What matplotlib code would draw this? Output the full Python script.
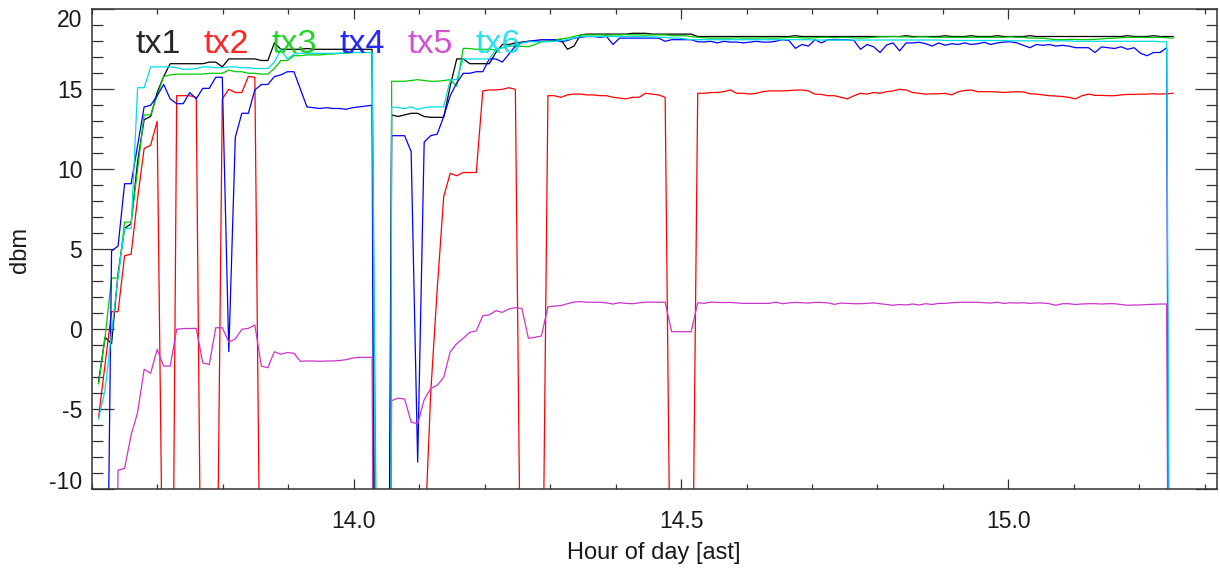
import numpy as np
import matplotlib
matplotlib.use('Agg')
import matplotlib.pyplot as plt
from matplotlib.ticker import MultipleLocator, FormatStrFormatter

plt.rcParams['font.family'] = ['Liberation Sans', 'DejaVu Sans']
plt.rcParams['axes.unicode_minus'] = False

# sample times (hour of day), one sample about every 36 s
T0 = 13.610
DT = 0.00995

tx1 = [-3.3, -0.5, -0.9, 3.5, 6.3, 6.6, 10.5, 13.1, 13.3, 14.8,
       15.8, 16.6, 16.6, 16.6, 16.6, 16.6, 16.6, 16.7, 16.7, 16.4,
       16.9, 16.9, 16.9, 16.9, 16.9, 16.8, 16.8, 17.9, 17.5, 17.5,
       17.5, 17.5, 17.55, 17.5, 17.5, 17.5, 17.5, 17.5, 17.5, 17.5,
       17.5, 17.5, 17.5, -60, -60, 13.4, 13.3, 13.4, 13.5, 13.5,
       13.3, 13.25, 13.25, 13.25, 15.2, 16.9, 16.9, 16.6, 16.6, 16.6,
       16.6, 17.3, 17.8, 17.8, 17.9, 17.95, 18.0, 18.0, 18.0, 18.0,
       18.05, 18.1, 17.5, 17.7, 18.4, 18.45, 18.45, 18.45, 18.45, 18.45,
       18.45, 18.45, 18.5, 18.5, 18.5, 18.45, 18.45, 18.45, 18.45, 18.45,
       18.45, 18.45, 18.3, 18.3, 18.3, 18.3, 18.3, 18.3, 18.3, 18.3,
       18.3, 18.3, 18.3, 18.3, 18.3, 18.3, 18.3, 18.35, 18.3, 18.3,
       18.3, 18.3, 18.3, 18.3, 18.3, 18.3, 18.3, 18.3, 18.3, 18.3,
       18.3, 18.3, 18.3, 18.3, 18.35, 18.3, 18.3, 18.3, 18.3, 18.3,
       18.35, 18.3, 18.3, 18.3, 18.35, 18.3, 18.3, 18.3, 18.35, 18.3,
       18.3, 18.3, 18.3, 18.35, 18.3, 18.3, 18.3, 18.3, 18.3, 18.3,
       18.3, 18.3, 18.3, 18.3, 18.3, 18.3, 18.3, 18.3, 18.35, 18.3,
       18.3, 18.3, 18.35, 18.3, 18.3, 18.3]

tx2 = [-5.5, -2.2, 1.1, 1.1, 4.6, 4.7, 8.2, 11.3, 11.5, 13.0,
       -22, -40, 14.6, 14.6, 14.6, 14.5, -30, -30, -25, 14.4,
       15.0, 14.8, 14.8, 15.8, 15.75, -25, -25, -25, -25, -25,
       -25, -25, -25, -25, -25, -25, -25, -25, -25, -25,
       -25, -25, -25, -25, -25, -25, -25, -25, -25, -25,
       -14, -4, 2.5, 8.3, 9.75, 9.6, 9.8, 9.8, 9.8, 14.9,
       14.96, 14.96, 15.0, 15.1, 15.0, -25, -25, -25, -25, 14.6,
       14.6, 14.5, 14.65, 14.7, 14.7, 14.65, 14.65, 14.6, 14.6, 14.5,
       14.45, 14.4, 14.5, 14.5, 14.75, 14.7, 14.65, 14.5, -25, -25,
       -25, -25, 14.75, 14.75, 14.8, 14.8, 14.85, 14.96, 14.75, 14.75,
       14.7, 14.75, 14.85, 14.9, 14.9, 14.9, 14.92, 14.95, 14.96, 14.9,
       14.7, 14.68, 14.6, 14.6, 14.5, 14.4, 14.6, 14.75, 14.7, 14.8,
       14.75, 14.85, 14.9, 15.0, 14.96, 14.8, 14.75, 14.7, 14.72, 14.72,
       14.75, 14.65, 14.85, 14.92, 14.96, 14.85, 14.85, 14.85, 14.83, 14.8,
       14.83, 14.85, 14.84, 14.72, 14.7, 14.65, 14.6, 14.58, 14.55, 14.5,
       14.4, 14.6, 14.7, 14.62, 14.62, 14.6, 14.6, 14.65, 14.68, 14.68,
       14.7, 14.7, 14.72, 14.7, 14.72, 14.75]

tx3 = [-3.4, -0.5, 3.2, 3.2, 6.7, 6.7, 10.0, 13.4, 13.4, 14.6,
       15.8, 15.9, 15.95, 15.95, 15.95, 15.95, 15.95, 16.0, 16.0, 16.0,
       16.2, 16.1, 16.1, 16.0, 16.0, 15.95, 15.95, 16.3, 16.8, 16.8,
       17.1, 17.1, 17.15, 17.15, 17.15, 17.2, 17.2, 17.25, 17.25, 17.3,
       17.3, 17.3, 17.3, -30, -300, 15.5, 15.5, 15.5, 15.55, 15.6,
       15.55, 15.5, 15.5, 15.55, 15.6, 15.2, 17.56, 17.55, 17.5, 17.5,
       17.5, 17.46, 17.6, 17.7, 17.7, 17.68, 17.66, 17.8, 17.97, 18.0,
       18.08, 18.15, 18.2, 18.3, 18.4, 18.4, 18.4, 18.4, 18.38, 18.4,
       18.4, 18.42, 18.4, 18.4, 18.38, 18.4, 18.4, 18.4, 18.35, 18.35,
       18.35, 18.3, 18.25, 18.22, 18.2, 18.2, 18.2, 18.2, 18.22, 18.2,
       18.2, 18.2, 18.22, 18.2, 18.2, 18.22, 18.25, 18.25, 18.22, 18.2,
       18.22, 18.25, 18.25, 18.22, 18.25, 18.25, 18.22, 18.2, 18.22, 18.25,
       18.28, 18.28, 18.3, 18.28, 18.28, 18.25, 18.28, 18.28, 18.25, 18.25,
       18.25, 18.25, 18.25, 18.25, 18.25, 18.25, 18.25, 18.25, 18.25, 18.25,
       18.28, 18.25, 18.25, 18.2, 18.2, 18.19, 18.15, 18.1, 18.1, 18.12,
       18.12, 18.1, 18.1, 18.12, 18.15, 18.18, 18.2, 18.22, 18.25, 18.25,
       18.25, 18.24, 18.24, 18.25, 18.22, 18.2]

tx4 = [-30, -30, 4.9, 5.2, 9.1, 9.1, 11.5, 13.9, 14.0, 14.6,
       15.3, 14.4, 14.1, 14.1, 14.8, 14.4, 15.06, 15.06, 15.75, 15.75,
       -1.4, 12.0, 13.5, 13.5, 14.96, 15.3, 15.3, 15.8, 15.9, 16.1,
       16.1, 15.0, 13.9, 13.85, 13.8, 13.85, 13.8, 13.8, 13.75, 13.85,
       13.9, 13.95, 14.0, -100, -100, 12.1, 12.1, 12.1, 11.1, -8.3,
       11.7, 12.1, 12.2, 13.3, 14.6, 15.4, 16.0, 16.0, 16.1, 16.1,
       16.9, 16.9, 16.7, 17.2, 17.7, 17.9, 18.0, 18.05, 18.1, 18.1,
       18.1, 17.97, 18.05, 18.2, 18.25, 18.3, 18.3, 18.25, 18.3, 17.8,
       18.2, 18.2, 18.2, 18.2, 18.2, 18.2, 18.2, 18.0, 18.1, 18.1,
       18.1, 18.1, 17.97, 17.96, 18.0, 17.9, 18.0, 17.95, 17.95, 17.9,
       17.95, 18.0, 17.95, 17.95, 18.0, 18.1, 18.05, 17.56, 17.8, 17.7,
       18.1, 17.9, 18.1, 18.1, 18.1, 18.1, 18.05, 17.5, 17.8, 17.66,
       17.3, 17.77, 17.9, 17.4, 17.9, 17.9, 17.94, 17.85, 17.7, 17.9,
       17.75, 17.85, 17.8, 17.9, 17.8, 17.85, 17.94, 17.8, 17.9, 17.95,
       17.97, 17.9, 17.75, 17.6, 17.8, 17.75, 17.8, 17.7, 17.75, 17.7,
       17.6, 17.6, 17.6, 17.3, 17.65, 17.6, 17.55, 17.66, 17.5, 17.6,
       17.25, 17.1, 17.3, 17.3, 17.6, -100]

tx5 = [-30, -30, -30, -8.8, -8.7, -6.6, -5.2, -2.5, -2.75, -1.25,
       -2.3, -2.3, 0.0, 0.05, 0.05, 0.06, -2.1, -2.2, 0.1, 0.1,
       -0.8, -0.6, 0.0, 0.06, 0.27, -2.3, -2.4, -1.4, -1.56, -1.45,
       -1.5, -2.0, -1.98, -1.98, -2.0, -1.98, -1.98, -1.95, -1.9, -1.8,
       -1.75, -1.75, -1.75, -80, -80, -4.46, -4.3, -4.36, -5.8, -5.9,
       -4.4, -3.7, -3.5, -3.0, -1.4, -0.9, -0.56, -0.19, -0.1, 0.85,
       0.9, 1.16, 1.06, 1.27, 1.35, 1.31, -0.56, -0.5, -0.42, 1.41,
       1.45, 1.48, 1.6, 1.7, 1.73, 1.69, 1.69, 1.69, 1.65, 1.58,
       1.66, 1.62, 1.6, 1.65, 1.7, 1.7, 1.69, 1.69, -0.15, -0.15,
       -0.15, -0.15, 1.66, 1.62, 1.7, 1.68, 1.67, 1.68, 1.65, 1.62,
       1.62, 1.62, 1.62, 1.62, 1.7, 1.6, 1.65, 1.68, 1.66, 1.64,
       1.68, 1.68, 1.65, 1.56, 1.64, 1.62, 1.6, 1.6, 1.62, 1.65,
       1.6, 1.55, 1.5, 1.55, 1.52, 1.58, 1.52, 1.6, 1.55, 1.62,
       1.62, 1.66, 1.68, 1.69, 1.69, 1.69, 1.66, 1.64, 1.69, 1.62,
       1.66, 1.64, 1.66, 1.62, 1.65, 1.64, 1.6, 1.5, 1.6, 1.6,
       1.55, 1.58, 1.6, 1.6, 1.58, 1.6, 1.6, 1.55, 1.5, 1.52,
       1.52, 1.55, 1.56, 1.58, 1.58, -80]

tx6 = [-5.6, -3.8, -0.2, 3.3, 6.3, 6.3, 15.1, 15.1, 16.4, 16.4,
       16.4, 16.4, 16.35, 16.25, 16.25, 16.3, 16.4, 16.4, 16.35, 16.35,
       16.4, 16.4, 16.35, 16.35, 16.3, 16.3, 16.3, 16.7, 17.5, 16.9,
       17.2, 17.25, 17.25, 17.25, 17.25, 17.25, 17.25, 17.25, 17.28, 17.3,
       17.3, 17.3, 17.3, -40, -200, 13.9, 13.85, 13.8, 13.9, 13.75,
       13.85, 13.9, 13.9, 13.9, 15.6, 15.6, 16.9, 16.9, 16.9, 16.9,
       16.9, 17.5, 17.6, 17.7, 17.8, 17.9, 17.97, 17.97, 17.97, 17.97,
       18.0, 18.05, 18.1, 18.2, 18.3, 18.3, 18.3, 18.3, 18.3, 18.3,
       18.3, 18.3, 18.3, 18.3, 18.28, 18.28, 18.25, 18.25, 18.2, 18.2,
       18.15, 18.1, 18.1, 18.1, 18.1, 18.1, 18.1, 18.1, 18.1, 18.1,
       18.1, 18.1, 18.1, 18.1, 18.1, 18.1, 18.1, 18.1, 18.1, 18.1,
       18.08, 18.08, 18.08, 18.08, 18.08, 18.08, 18.08, 18.08, 18.08, 18.08,
       18.08, 18.08, 18.08, 18.08, 18.08, 18.08, 18.08, 18.08, 18.08, 18.08,
       18.05, 18.05, 18.05, 18.05, 18.05, 18.05, 18.05, 18.05, 18.05, 18.05,
       18.03, 18.03, 18.03, 18.03, 18.03, 18.03, 18.03, 18.03, 18.03, 18.03,
       18.0, 18.0, 18.0, 18.0, 18.0, 18.0, 18.0, 18.0, 18.0, 18.0,
       18.0, 18.0, 18.0, 17.97, 17.97, -60]

names = ['tx1', 'tx2', 'tx3', 'tx4', 'tx5', 'tx6']
colors = ['#000000', '#ff0000', '#00cc00', '#0000ff', '#cc33cc', '#00dde8']
yvals = [-10, -5, 0, 5, 10, 15, 20]

series = [tx1, tx2, tx3, tx4, tx5, tx6]
for s in series:
    assert len(s) == len(tx1), len(s)
t = T0 + DT * np.arange(len(tx1))

fig = plt.figure(figsize=(12.2, 5.75), dpi=100)
ax = fig.add_axes([92 / 1220, 1 - 489.3 / 575, 1124.5 / 1220, 480 / 575])

for s, c in zip(series, colors):
    ax.plot(t, s, color=c, lw=0.9)

ax.set_xlim(13.6, 15.318)
ax.set_ylim(-10, 20)

ax.xaxis.set_major_locator(MultipleLocator(0.5))
ax.xaxis.set_minor_locator(MultipleLocator(0.1))
ax.xaxis.set_major_formatter(FormatStrFormatter('%.1f'))
ax.set_yticks(yvals)
ax.set_yticklabels([str(v) for v in yvals])
ax.yaxis.set_minor_locator(MultipleLocator(1))

ax.tick_params(which='both', direction='in', top=True, right=True,
               colors='0.2', labelcolor='#1a1a1a', labelsize=16.5, width=0.9)
ax.tick_params(axis='x', which='major', length=7.2, pad=15)
ax.tick_params(axis='x', which='minor', length=3.6)
ax.tick_params(axis='y', which='major', length=16, pad=7)
ax.tick_params(axis='y', which='minor', length=8)
for sp in ax.spines.values():
    sp.set_color('0.2')
    sp.set_linewidth(1.1)

# end labels sit inside the axis range, like the original
ylabels = ax.get_yticklabels()
ylabels[0].set_va('baseline')
ylabels[-1].set_va('top')

fig.text(654 / 1220, 1 - 553 / 575, 'Hour of day [ast]', ha='center', va='center',
         fontsize=17, color='#1a1a1a')
fig.text(20 / 1220, 1 - 250 / 575, 'dbm', rotation=90, ha='center', va='center',
         fontsize=17, color='#1a1a1a')

# labels of the six channels across the top of the plot
for k, (n, c) in enumerate(zip(names, colors)):
    fig.text((136 + 68 * k) / 1220, 1 - 52.7 / 575, n, color=c, fontsize=24.5,
             ha='left', va='baseline', alpha=0.85)

fig.savefig('out.png', dpi=100)
